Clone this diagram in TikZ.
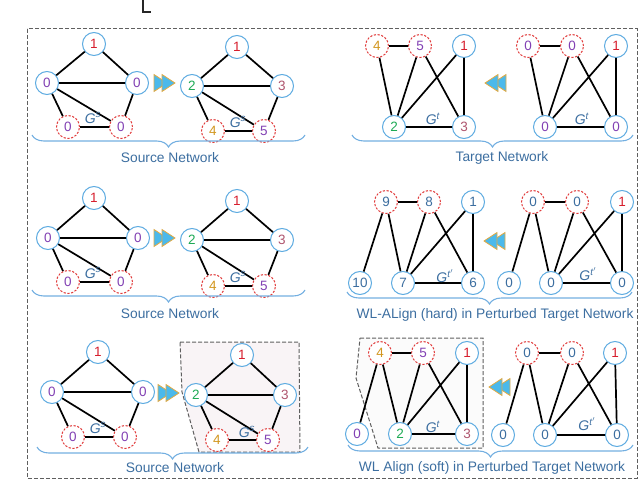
\documentclass[tikz,border=0pt]{standalone}
\usepackage{fontspec}
\setmainfont{Liberation Sans}
\usetikzlibrary{decorations.pathreplacing}
\definecolor{nodeblue}{RGB}{95,172,225}
\definecolor{dashred}{RGB}{225,60,60}
\definecolor{cred}{RGB}{215,30,45}
\definecolor{cpur}{RGB}{130,65,180}
\definecolor{cgrn}{RGB}{30,170,85}
\definecolor{cmau}{RGB}{175,85,110}
\definecolor{cgld}{RGB}{210,150,30}
\definecolor{steel}{RGB}{60,110,160}
\definecolor{bracecol}{RGB}{115,175,225}
\definecolor{arrfill}{RGB}{75,185,235}
\definecolor{arrgold}{RGB}{228,170,65}
\definecolor{boxgray}{RGB}{95,95,95}
\definecolor{pinkbg}{RGB}{249,244,246}
\definecolor{graybg}{RGB}{251,251,251}
\newcommand{\numfnt}{\fontsize{13.5}{14}\selectfont}
\newcommand{\glfnt}{\fontsize{14}{14}\selectfont}
\newcommand{\labfnt}{\fontsize{13.8}{14}\selectfont}
\newcommand{\Gs}{\textit{G}\textsuperscript{\textit{s}}}
\newcommand{\Gt}{\textit{G}\textsuperscript{\textit{t}}}
\newcommand{\Gtp}{\textit{G}\textsuperscript{\textit{t}$'$}}
\tikzset{
  sn/.style={circle,draw=nodeblue,line width=1pt,fill=white,minimum size=23pt,inner sep=0pt,font=\numfnt},
  dn/.style={sn,draw=dashred,dash pattern=on 2.2pt off 1.6pt},
  lnk/.style={line width=1.7pt,black},
  gl/.style={text=steel,font=\glfnt,inner sep=0pt},
  lab/.style={text=steel,font=\labfnt,inner sep=0pt},
  br/.style={decorate,decoration={brace,mirror,amplitude=12pt},draw=bracecol,line width=1.1pt},
  hibox/.style={draw=boxgray,line width=1pt,dash pattern=on 4pt off 2pt},
  ffwd/.pic={
    \filldraw[fill=arrfill,draw=arrgold,line width=0.8pt] (0,-8.5)--(13,0)--(0,8.5)--cycle;
    \filldraw[fill=arrfill,draw=arrgold,line width=0.8pt] (8,-8.5)--(21,0)--(8,8.5)--cycle;
  }
}
\begin{document}
\begin{tikzpicture}[x=1pt,y=-1pt]
\useasboundingbox (0,0) rectangle (640,484);
% cropped caption fragment
\draw[line width=1.2pt,black!85] (143,-2)--(143,12)--(151,12);
% outer dashed frame
\draw[draw=boxgray,line width=1pt,dash pattern=on 4pt off 2pt] (27,29) rectangle (637,478);

% ---------- Panel 1 ----------
\node[sn,text=cred] (p1a) at (94,44) {1};
\node[sn,text=cpur] (p1b) at (47,83) {0};
\node[sn,text=cpur] (p1c) at (137,83) {0};
\node[dn,text=cpur] (p1d) at (68,127) {0};
\node[dn,text=cpur] (p1e) at (121,127) {0};
\draw[lnk] (p1a)--(p1b) (p1a)--(p1c) (p1b)--(p1c) (p1b)--(p1d) (p1b)--(p1e) (p1c)--(p1e) (p1d)--(p1e);
\node[gl] (p1g) at (93,118) {\Gs};
\pic at (154,83) {ffwd};
\node[sn,text=cred] (q1a) at (237,47) {1};
\node[sn,text=cgrn] (q1b) at (192,86) {2};
\node[sn,text=cmau] (q1c) at (282,86) {3};
\node[dn,text=cgld] (q1d) at (213,131) {4};
\node[dn,text=cpur] (q1e) at (264,131) {5};
\draw[lnk] (q1a)--(q1b) (q1a)--(q1c) (q1b)--(q1c) (q1b)--(q1d) (q1b)--(q1e) (q1c)--(q1e) (q1d)--(q1e);
\node[gl] (q1g) at (238,122) {\Gs};
\draw[br] (32,135)--(305,135);
\node[lab] (l1) at (170,158) {Source Network};

% ---------- Panel 2 ----------
\node[dn,text=cgld] (r2a) at (377,46) {4};
\node[dn,text=cpur] (r2b) at (420,46) {5};
\node[sn,text=cred] (r2c) at (464,46) {1};
\node[sn,text=cgrn] (r2d) at (394,127) {2};
\node[sn,text=cmau] (r2e) at (464,127) {3};
\draw[lnk] (r2a)--(r2b) (r2a)--(r2d) (r2b)--(r2d) (r2b)--(r2e) (r2c)--(r2d) (r2c)--(r2e) (r2d)--(r2e);
\node[gl] (r2g) at (433,119) {\Gt};
\pic[xscale=-1] at (506,83) {ffwd};
\node[dn,text=cpur] (s2a) at (528,46) {0};
\node[dn,text=cpur] (s2b) at (572,46) {0};
\node[sn,text=cred] (s2c) at (616,46) {1};
\node[sn,text=cpur] (s2d) at (545,127) {0};
\node[sn,text=cpur] (s2e) at (616,127) {0};
\draw[lnk] (s2a)--(s2b) (s2a)--(s2d) (s2b)--(s2d) (s2b)--(s2e) (s2c)--(s2d) (s2c)--(s2e) (s2d)--(s2e);
\node[gl] (s2g) at (582,119) {\Gt};
\draw[br] (352,135)--(633,135);
\node[lab] (l2) at (502,158) {Target Network};

% ---------- Panel 3 ----------
\node[sn,text=cred] (p3a) at (94,198) {1};
\node[sn,text=cpur] (p3b) at (48,238) {0};
\node[sn,text=cpur] (p3c) at (138,238) {0};
\node[dn,text=cpur] (p3d) at (68,282) {0};
\node[dn,text=cpur] (p3e) at (121,282) {0};
\draw[lnk] (p3a)--(p3b) (p3a)--(p3c) (p3b)--(p3c) (p3b)--(p3d) (p3b)--(p3e) (p3c)--(p3e) (p3d)--(p3e);
\node[gl] (p3g) at (93,273) {\Gs};
\pic at (154,238) {ffwd};
\node[sn,text=cred] (q3a) at (237,201) {1};
\node[sn,text=cgrn] (q3b) at (192,240) {2};
\node[sn,text=cmau] (q3c) at (282,240) {3};
\node[dn,text=cgld] (q3d) at (213,286) {4};
\node[dn,text=cpur] (q3e) at (264,286) {5};
\draw[lnk] (q3a)--(q3b) (q3a)--(q3c) (q3b)--(q3c) (q3b)--(q3d) (q3b)--(q3e) (q3c)--(q3e) (q3d)--(q3e);
\node[gl] (q3g) at (238,277) {\Gs};
\draw[br] (32,290)--(305,290);
\node[lab] (l3) at (170,314) {Source Network};

% ---------- Panel 4 ----------
\node[dn,text=steel] (t4a) at (386,202) {9};
\node[dn,text=steel] (t4b) at (429,202) {8};
\node[sn,text=steel] (t4c) at (473,202) {1};
\node[sn,text=steel] (t4d) at (360,283) {10};
\node[sn,text=steel] (t4e) at (403,283) {7};
\node[sn,text=steel] (t4f) at (473,283) {6};
\draw[lnk] (t4a)--(t4b) (t4a)--(t4d) (t4a)--(t4e) (t4b)--(t4e) (t4b)--(t4f) (t4c)--(t4e) (t4c)--(t4f) (t4e)--(t4f);
\node[gl] (t4g) at (445,276) {\Gtp};
\pic[xscale=-1] at (505,241) {ffwd};
\node[dn,text=steel] (u4a) at (533,202) {0};
\node[dn,text=steel] (u4b) at (577,202) {0};
\node[sn,text=cred] (u4c) at (622,202) {1};
\node[sn,text=steel] (u4d) at (509,283) {0};
\node[sn,text=steel] (u4e) at (551,283) {0};
\node[sn,text=steel] (u4f) at (622,283) {0};
\draw[lnk] (u4a)--(u4b) (u4a)--(u4d) (u4a)--(u4e) (u4b)--(u4e) (u4b)--(u4f) (u4c)--(u4e) (u4c)--(u4f) (u4e)--(u4f);
\node[gl] (u4g) at (588,274) {\Gtp};
\draw[br] (347,292)--(632,292);
\node[lab] (l4) at (495,315) {WL-ALign (hard) in Perturbed Target Network};

% ---------- Panel 5 ----------
\draw[hibox,fill=pinkbg] (180,342)--(299,342)--(300,452)--(199,452)--(182,392)--cycle;
\node[sn,text=cred] (v5a) at (98,352) {1};
\node[sn,text=cpur] (v5b) at (52,392) {0};
\node[sn,text=cpur] (v5c) at (143,392) {0};
\node[dn,text=cpur] (v5d) at (73,437) {0};
\node[dn,text=cpur] (v5e) at (125,437) {0};
\draw[lnk] (v5a)--(v5b) (v5a)--(v5c) (v5b)--(v5c) (v5b)--(v5d) (v5b)--(v5e) (v5c)--(v5e) (v5d)--(v5e);
\node[gl] (v5g) at (98,428) {\Gs};
\pic at (158,393) {ffwd};
\node[sn,text=cred] (w5a) at (242,355) {1};
\node[sn,text=cgrn] (w5b) at (196,395) {2};
\node[sn,text=cmau] (w5c) at (285,395) {3};
\node[dn,text=cgld] (w5d) at (217,440) {4};
\node[dn,text=cpur] (w5e) at (268,440) {5};
\draw[lnk] (w5a)--(w5b) (w5a)--(w5c) (w5b)--(w5c) (w5b)--(w5d) (w5b)--(w5e) (w5c)--(w5e) (w5d)--(w5e);
\node[gl] (w5g) at (247,432) {\Gs};
\draw[br] (37,447)--(308,447);
\node[lab] (l5) at (175,468) {Source Network};

% ---------- Panel 6 ----------
\draw[hibox,fill=graybg] (360,338)--(483,338)--(483,448)--(378,448)--(356,378)--cycle;
\node[dn,text=cgld] (x6a) at (380,353) {4};
\node[dn,text=cpur] (x6b) at (423,353) {5};
\node[sn,text=cred] (x6c) at (467,353) {1};
\node[sn,text=cpur] (x6d) at (357,434) {0};
\node[sn,text=cgrn] (x6e) at (400,434) {2};
\node[sn,text=cmau] (x6f) at (467,434) {3};
\draw[lnk] (x6a)--(x6b) (x6a)--(x6d) (x6a)--(x6e) (x6b)--(x6e) (x6b)--(x6f) (x6c)--(x6e) (x6c)--(x6f) (x6e)--(x6f);
\node[gl] (x6g) at (433,427) {\Gt};
\pic[xscale=-1] at (510,387) {ffwd};
\node[dn,text=steel] (y6a) at (527,353) {0};
\node[dn,text=steel] (y6b) at (572,353) {0};
\node[sn,text=cred] (y6c) at (615,353) {1};
\node[sn,text=steel] (y6d) at (503,435) {0};
\node[sn,text=steel] (y6e) at (545,435) {0};
\node[sn,text=steel] (y6f) at (617,435) {0};
\draw[lnk] (y6a)--(y6b) (y6a)--(y6d) (y6a)--(y6e) (y6b)--(y6e) (y6b)--(y6f) (y6c)--(y6e) (y6c)--(y6f) (y6e)--(y6f);
\node[gl] (y6g) at (587,424) {\Gtp};
\draw[br] (348,445)--(633,445);
\node[lab] (l6) at (492,468) {WL Align (soft) in Perturbed Target Network};
\end{tikzpicture}
\end{document}
